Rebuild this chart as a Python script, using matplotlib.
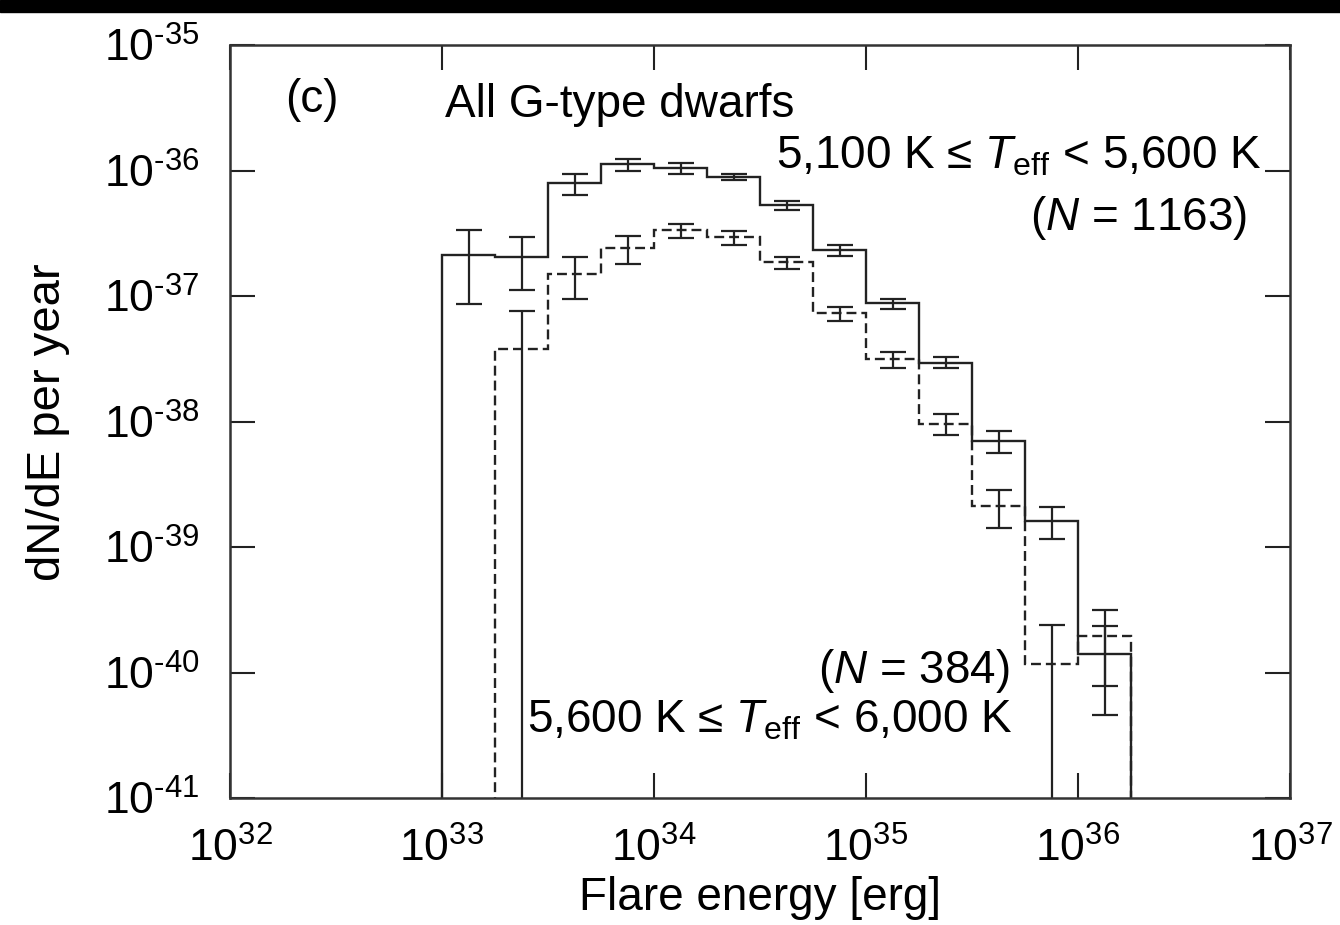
import matplotlib
matplotlib.use("Agg")
import matplotlib.pyplot as plt
from matplotlib.patches import Rectangle
import numpy as np

plt.rcParams['font.family'] = ['Liberation Sans', 'DejaVu Sans']
plt.rcParams['mathtext.fontset'] = 'custom'
plt.rcParams['mathtext.rm'] = 'Liberation Sans'
plt.rcParams['mathtext.it'] = 'Liberation Sans:italic'

# bins in log10(E), width 0.25 dex
edges_hot = 10 ** (33.0 + 0.25 * np.arange(14))    # 5,100-5,600 K
edges_cool = 10 ** (33.25 + 0.25 * np.arange(13))  # 5,600-6,000 K

# 5,100 K <= Teff < 5,600 K  (N = 1163)
val_a = [2.11e-37, 2.03e-37, 7.93e-37, 1.12e-36, 1.04e-36, 8.85e-37, 5.28e-37,
         2.31e-37, 8.73e-38, 2.95e-38, 7.05e-39, 1.62e-39, 1.41e-40]
err_a = [1.25e-37, 0.91e-37, 1.5e-37, 0.12e-36, 0.10e-36, 0.45e-37, 0.40e-37,
         0.22e-37, 0.80e-38, 0.30e-38, 1.4e-39, 0.46e-39, 0.95e-40]

# 5,600 K <= Teff < 6,000 K  (N = 384)
val_b = [3.75e-38, 1.49e-37, 2.40e-37, 3.34e-37, 2.94e-37, 1.85e-37, 7.26e-38,
         3.12e-38, 9.62e-39, 2.13e-39, 1.17e-40, 1.95e-40]
err_b = [3.8e-38, 0.55e-37, 0.60e-37, 0.42e-37, 0.38e-37, 0.21e-37, 0.98e-38,
         0.45e-38, 1.85e-39, 0.70e-39, 1.2e-40, 1.17e-40]

xticks = [1e32, 1e33, 1e34, 1e35, 1e36, 1e37]
yticks = [1e-41, 1e-40, 1e-39, 1e-38, 1e-37, 1e-36, 1e-35]


def sci(t):
    e = int(round(np.log10(t)))
    if e < 0:
        return r'$10^{\text{-}%d}$' % (-e)
    return r'$10^{%d}$' % e


W, H = 1340, 925
fig = plt.figure(figsize=(W / 100, H / 100), dpi=100)
ax = fig.add_axes([230 / W, 1 - 798 / H, 1060 / W, 753 / H])
ax.set_xscale('log')
ax.set_yscale('log')

col = '#222222'
ax.stairs(val_a, edges_hot, baseline=1e-45, color=col, lw=1.7)
ax.stairs(val_b, edges_cool, baseline=1e-45, color=col, lw=1.7,
          linestyle=(0, (4.2, 2.1)))

cen_a = np.sqrt(edges_hot[:-1] * edges_hot[1:])
cen_b = np.sqrt(edges_cool[:-1] * edges_cool[1:])
ea = np.array(err_a)
eb = np.array(err_b)
va = np.array(val_a)
vb = np.array(val_b)
ax.errorbar(cen_a, va, yerr=[np.minimum(ea, va * 0.9999), ea], fmt='none',
            ecolor=col, elinewidth=1.6, capsize=9.5, capthick=1.6)
ax.errorbar(cen_b, vb, yerr=[np.minimum(eb, vb * 0.9999), eb], fmt='none',
            ecolor=col, elinewidth=1.6, capsize=9.5, capthick=1.6)

ax.set_xlim(1e32, 1e37)
ax.set_ylim(1e-41, 1e-35)
ax.set_xticks(xticks)
ax.set_yticks(yticks)
ax.set_xticklabels([sci(t) for t in xticks])
ax.set_yticklabels([sci(t) for t in yticks])
ax.minorticks_off()
ax.tick_params(which='major', direction='in', length=18, width=1.5,
               colors=col, labelcolor='black', labelsize=32,
               top=True, right=True)
ax.tick_params(axis='x', pad=21)
ax.tick_params(axis='y', pad=22)
for s in ax.spines.values():
    s.set_linewidth(1.8)
    s.set_color('#333333')

ax.set_xlabel('Flare energy [erg]', fontsize=33, labelpad=4)
ax.set_ylabel('dN/dE per year', fontsize=34)
ax.yaxis.set_label_coords((70 - 230) / 1060, (798 - 422) / 753)

fs = 33
fig.text(285 / W, 1 - 112 / H, '(c)', fontsize=fs, ha='left', va='baseline')
fig.text(445 / W, 1 - 117 / H, 'All G-type dwarfs', fontsize=fs,
         ha='left', va='baseline')
fig.text(1262 / W, 1 - 168 / H, r'5,100 K ≤ $T_{\mathrm{eff}}$ < 5,600 K',
         fontsize=fs, ha='right', va='baseline')
fig.text(1247 / W, 1 - 230 / H, r'($N$ = 1163)', fontsize=fs,
         ha='right', va='baseline')
fig.text(1010 / W, 1 - 683 / H, r'($N$ = 384)', fontsize=fs,
         ha='right', va='baseline')
fig.text(527 / W, 1 - 733 / H, r'5,600 K ≤ $T_{\mathrm{eff}}$ < 6,000 K',
         fontsize=fs, ha='left', va='baseline')

fig.patches.append(Rectangle((0, 1 - 12 / H), 1, 12 / H,
                             transform=fig.transFigure, color='black',
                             zorder=10))

fig.savefig('out.png', dpi=100)
